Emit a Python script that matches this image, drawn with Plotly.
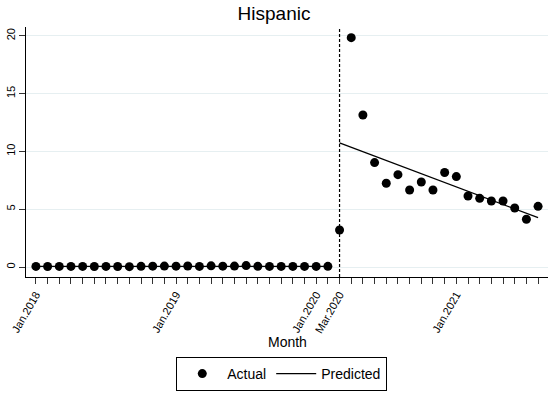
import plotly.graph_objects as go

# Month labels Jan 2018 .. Aug 2021 (index 0..43)
month_names = ["Jan", "Feb", "Mar", "Apr", "May", "Jun", "Jul", "Aug", "Sep", "Oct", "Nov", "Dec"]
months = [f"{m}.{y}" for y in (2018, 2019, 2020, 2021) for m in month_names][:44]

labelled_months = ["Jan.2018", "Jan.2019", "Jan.2020", "Mar.2020", "Jan.2021"]
cutoff_month = "Mar.2020"

# Actual values, Jan 2018 - Feb 2020 (pre period)
pre_actual = [0.05, 0.04, 0.05, 0.05, 0.05, 0.04, 0.05, 0.04, 0.03, 0.06, 0.07,
              0.08, 0.07, 0.09, 0.05, 0.1, 0.07, 0.08, 0.12, 0.06, 0.05, 0.05,
              0.05, 0.05, 0.05, 0.06]
# Actual values, Mar 2020 - Aug 2021 (post period)
post_actual = [3.2, 19.84, 13.15, 9.03, 7.24, 7.99, 6.66, 7.35, 6.66, 8.17, 7.82,
               6.14, 5.94, 5.71, 5.71, 5.10, 4.13, 5.25]

# Predicted (fitted) segments: endpoints of each straight segment
pre_pred_months = ["Jan.2018", "Feb.2020"]
pre_pred = [0.05, 0.05]
post_pred_months = ["Mar.2020", "Aug.2021"]
post_pred = [10.73, 4.27]

idx = {m: i for i, m in enumerate(months)}
actual = pre_actual + post_actual
x_actual = list(range(len(actual)))

x_pred = [idx[m] for m in pre_pred_months] + [None] + [idx[m] for m in post_pred_months]
y_pred = pre_pred + [None] + post_pred

FONT = "Arial, Liberation Sans, sans-serif"

fig = go.Figure()
fig.add_trace(go.Scatter(
    x=x_pred, y=y_pred, mode="lines", name="Predicted",
    line=dict(color="black", width=1.3), connectgaps=False,
))
fig.add_trace(go.Scatter(
    x=x_actual, y=actual, mode="markers", name="Actual",
    marker=dict(color="black", size=9),
))

fig.add_shape(type="line", xref="x", yref="paper",
              x0=idx[cutoff_month], x1=idx[cutoff_month], y0=0, y1=1,
              line=dict(color="black", width=1.2, dash="3px,2px"))

ticktext = [m if m in labelled_months else "" for m in months]

fig.update_layout(
    width=548, height=394,
    margin=dict(l=26, r=0, t=27, b=117),
    paper_bgcolor="white", plot_bgcolor="white",
    font=dict(family=FONT, color="black"),
    title=dict(text="Hispanic", x=0.5, xref="container", xanchor="center",
               y=1 - 13.5 / 394, yref="container", yanchor="middle",
               font=dict(size=19, family=FONT, color="black")),
    showlegend=True,
    legend=dict(orientation="h", x=0.49, xanchor="center", y=-0.32, yanchor="top",
                bordercolor="black", borderwidth=1, font=dict(size=14, family=FONT),
                traceorder="reversed", itemwidth=40),
    xaxis=dict(
        range=[-0.85, 43.85], tickmode="array",
        tickvals=list(range(len(months))), ticktext=ticktext,
        tickangle=-60, ticks="outside", ticklen=6, tickcolor="#333",
        tickfont=dict(size=11, family=FONT, color="black"),
        showgrid=False, zeroline=False, showline=True, linecolor="black", linewidth=1,
    ),
    yaxis=dict(
        range=[-0.865, 20.76], tickvals=[0, 5, 10, 15, 20], tickangle=-90,
        ticks="outside", ticklen=6, tickcolor="#333",
        tickfont=dict(size=11, family=FONT, color="black"),
        showgrid=True, gridcolor="#e6eff1", gridwidth=1,
        zeroline=False, showline=True, linecolor="black", linewidth=1,
    ),
)

fig.add_annotation(text="Month", xref="paper", yref="paper", x=0.5, y=-0.26,
                   xanchor="center", yanchor="middle", showarrow=False,
                   font=dict(size=14, family=FONT, color="black"))

fig.write_html("out.html")
